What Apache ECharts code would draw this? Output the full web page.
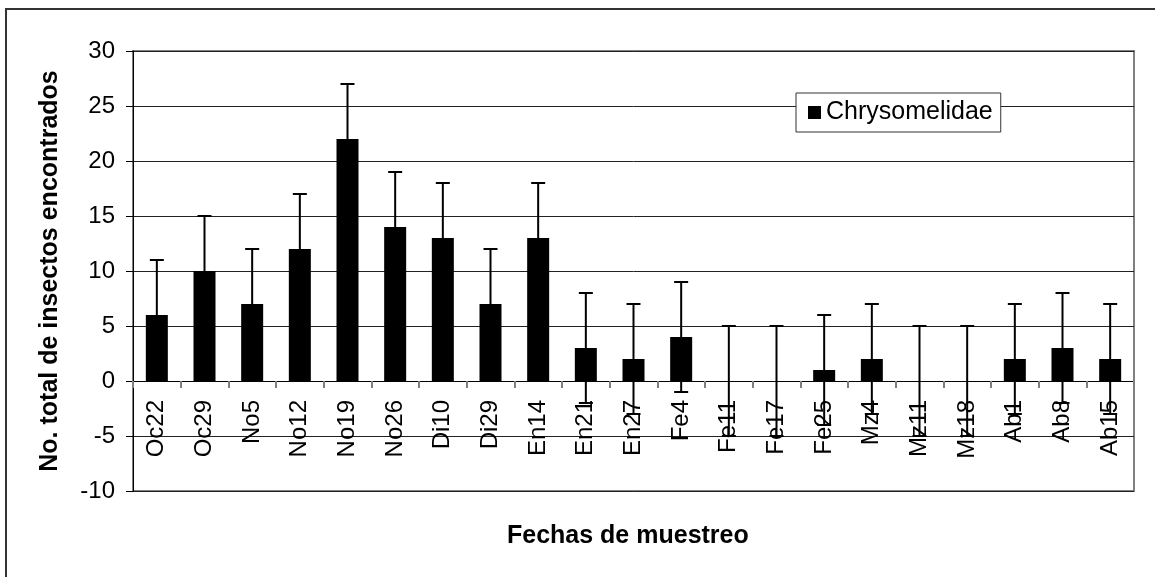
<!DOCTYPE html>
<html>
<head>
<meta charset="utf-8">
<style>
  html, body { margin: 0; padding: 0; background: #fff; }
  #myChart { width: 1155px; height: 577px; }
</style>
<script src="https://cdn.jsdelivr.net/npm/echarts@6/dist/echarts.min.js"></script>
</head>
<body>
<div id="myChart"></div>
<script>
  // fechas de muestreo
  var categories = ['Oc22', 'Oc29', 'No5', 'No12', 'No19', 'No26', 'Di10', 'Di29', 'En14', 'En21', 'En27',
    'Fe4', 'Fe11', 'Fe17', 'Fe25', 'Mz4', 'Mz11', 'Mz18', 'Ab1', 'Ab8', 'Ab15']
  // total de Chrysomelidae
  var values = [6, 10, 7, 12, 22, 14, 13, 7, 13, 3, 2, 4, 0, 0, 1, 2, 0, 0, 2, 3, 2]
  // barras de error (+/-)
  var errors = [5, 5, 5, 5, 5, 5, 5, 5, 5, 5, 5, 5, 5, 5, 5, 5, 5, 5, 5, 5, 5]
  var yTicks = { min: -10, max: 30, interval: 5 }

  var errData = values.map(function (v, i) {
    return [i, v - errors[i], v + errors[i]]
  })

  var FONT = 'Liberation Sans, Arial, sans-serif'
  var gridTop = 51, gridBottom = 86, plotH = 577 - gridTop - gridBottom
  // el eje de categorias cruza en y = 0 (desplazado desde abajo)
  var zeroOffset = -plotH * (0 - yTicks.min) / (yTicks.max - yTicks.min)

  var myChart = echarts.init(document.getElementById('myChart'))
  var option = {
    backgroundColor: '#fff',
    animation: false,
    grid: {
      left: 133, right: 21, top: gridTop, bottom: gridBottom,
      show: true, borderColor: '#808080', borderWidth: 2, backgroundColor: 'transparent'
    },
    legend: {
      left: 796, top: 93,
      data: ['Chrysomelidae'],
      icon: 'rect', itemWidth: 13, itemHeight: 13, itemGap: 0,
      padding: [7, 8, 7, 12],
      backgroundColor: '#fff', borderColor: '#333', borderWidth: 1,
      textStyle: { fontFamily: FONT, fontSize: 25, color: '#000' }
    },
    xAxis: {
      type: 'category',
      data: categories,
      position: 'bottom',
      offset: zeroOffset,
      axisLine: { onZero: false, lineStyle: { color: '#000', width: 1 } },
      axisTick: { show: true, length: 7, lineStyle: { color: '#808080', width: 2 } },
      axisLabel: { rotate: 90, margin: 19, fontFamily: FONT, fontSize: 24, color: '#000', interval: 0 },
      splitLine: { show: false }
    },
    yAxis: {
      type: 'value',
      min: yTicks.min, max: yTicks.max, interval: yTicks.interval,
      name: 'No. total de insectos encontrados',
      nameLocation: 'middle', nameGap: 70,
      nameTextStyle: { fontFamily: FONT, fontSize: 25, fontWeight: 'bold', color: '#000' },
      axisLine: { show: true, lineStyle: { color: '#000', width: 1 } },
      axisTick: { show: true, length: 7, lineStyle: { color: '#000' } },
      axisLabel: { margin: 18, fontFamily: FONT, fontSize: 24, color: '#000' },
      splitLine: { show: true, lineStyle: { color: '#222', width: 1 } }
    },
    graphic: [
      {
        type: 'rect', silent: true, z: -10,
        shape: { x: 6, y: 9, width: 1300, height: 800 },
        style: { fill: 'none', stroke: '#333', lineWidth: 2 }
      },
      {
        type: 'text', left: 507, top: 524,
        style: { text: 'Fechas de muestreo', font: 'bold 25px Liberation Sans, Arial, sans-serif', fill: '#000' }
      }
    ],
    series: [
      {
        name: 'Chrysomelidae',
        type: 'bar',
        data: values,
        barWidth: 22,
        itemStyle: { color: '#000' }
      },
      {
        name: 'error',
        type: 'custom',
        data: errData,
        z: 5,
        renderItem: function (params, api) {
          var x = api.value(0)
          var lo = api.coord([x, api.value(1)])
          var hi = api.coord([x, api.value(2)])
          var hw = 7
          var st = { stroke: '#000', lineWidth: 2 }
          return {
            type: 'group',
            children: [
              { type: 'line', shape: { x1: hi[0], y1: hi[1], x2: lo[0], y2: lo[1] }, style: st },
              { type: 'line', shape: { x1: hi[0] - hw, y1: hi[1], x2: hi[0] + hw, y2: hi[1] }, style: st },
              { type: 'line', shape: { x1: lo[0] - hw, y1: lo[1], x2: lo[0] + hw, y2: lo[1] }, style: st }
            ]
          }
        }
      }
    ]
  }
  myChart.setOption(option)
</script>
</body>
</html>
